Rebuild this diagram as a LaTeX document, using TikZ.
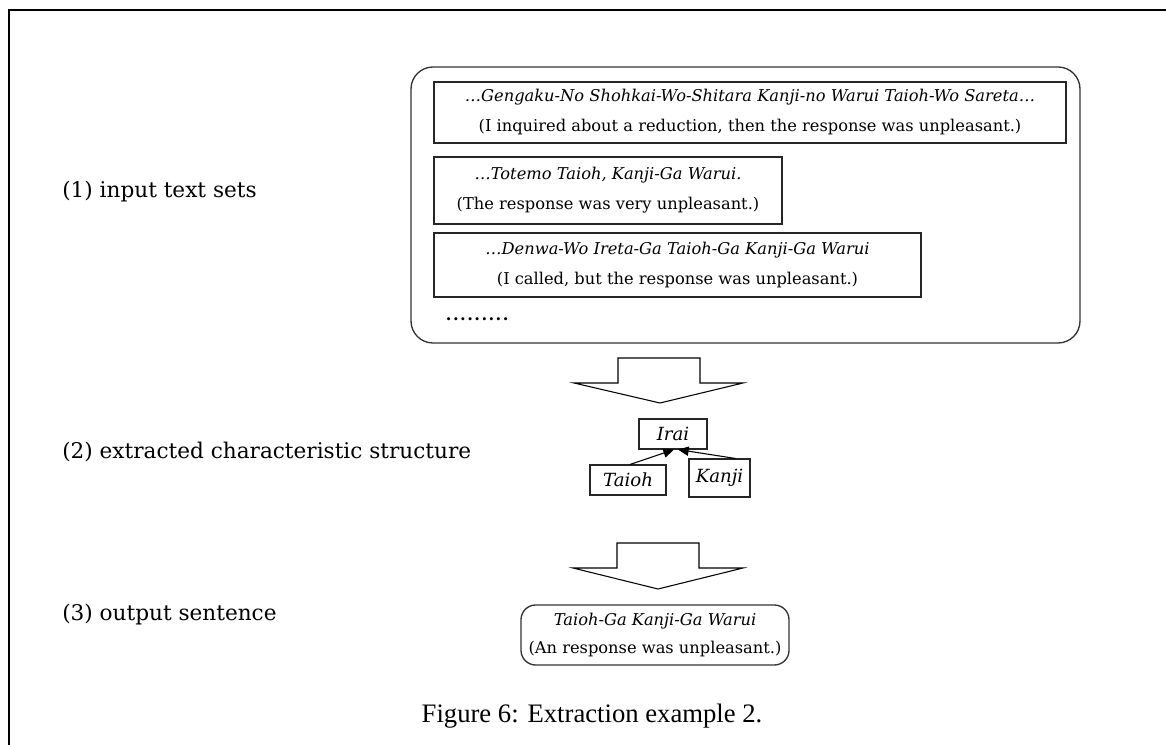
\documentclass[tikz,border=0pt]{standalone}
\usepackage{fontspec}
\setmainfont{DejaVu Serif}
\newfontfamily\captionfont{Liberation Serif}
\usetikzlibrary{arrows.meta}

% row of evenly spaced dots
\newcommand\dotrow{\foreach \k in {1,...,9}{\makebox[5.33pt]{.}}}

\begin{document}
\begin{tikzpicture}[x=0.75pt,y=-0.75pt,
  frameline/.style={line width=1.5pt,black},
  textbox/.style={draw=black!85,line width=0.8pt,align=center,inner sep=0pt,
    font=\fontsize{12.2}{22.5}\selectfont},
  wordbox/.style={draw=black!85,line width=0.8pt,inner sep=0pt,
    font=\fontsize{13.6}{16}\selectfont\itshape},
  roundbox/.style={draw=black!80,line width=1pt,rounded corners=16.5pt,inner sep=0pt},
  steplabel/.style={anchor=west,inner sep=0pt,font=\fontsize{16.2}{20}\selectfont},
  fatarrow/.style={draw=black,line width=0.8pt,fill=white},
  link/.style={line width=0.8pt,-{Triangle[length=8pt,width=7pt]}}]
\useasboundingbox (0,0) rectangle (1166,745);

% frame
\draw[frameline] (9,745) -- (9,10) -- (1166,10);

% (1) input text sets
\node[roundbox,minimum width=501.75pt,minimum height=207pt] (inputs) at (745.5,205) {};
\node[textbox,minimum width=474pt,minimum height=45.75pt] (s1) at (750,112.5)
  {\itshape\ldots Gengaku-No Shohkai-Wo-Shitara Kanji-no Warui Taioh-Wo Sareta\ldots\\
   (I inquired about a reduction, then the response was unpleasant.)};
\node[textbox,minimum width=261pt,minimum height=50.25pt] (s2) at (608,190.5)
  {\itshape\ldots Totemo Taioh, Kanji-Ga Warui.\\
   (The response was very unpleasant.)};
\node[textbox,minimum width=365.25pt,minimum height=48pt] (s3) at (677.5,265)
  {\itshape\ldots Denwa-Wo Ireta-Ga Taioh-Ga Kanji-Ga Warui\\
   (I called, but the response was unpleasant.)};
\node[anchor=west,inner sep=0pt,font=\fontsize{12.2}{16}\selectfont\bfseries] (more) at (445,319) {\dotrow};

\node[steplabel] (l1) at (62,192) {(1) input text sets};

% first fat arrow
\draw[fatarrow] (618,358) -- (700,358) -- (700,383) -- (743,383) -- (660,403)
  -- (574,383) -- (618,383) -- cycle;

% (2) extracted structure
\node[wordbox,minimum width=51pt,minimum height=22.5pt] (irai) at (673,434) {Irai};
\node[wordbox,minimum width=57pt,minimum height=22.5pt] (taioh) at (628,480) {Taioh};
\node[wordbox,minimum width=45.75pt,minimum height=28.5pt] (kanji) at (719.5,478) {Kanji};
\draw[link] ([xshift=1.5pt]taioh.north) -- ([xshift=0.75pt]irai.south);
\draw[link] ([xshift=12pt]kanji.north) -- ([xshift=3.75pt]irai.south);

\node[steplabel] (l2) at (62,452) {(2) extracted characteristic structure};

% second fat arrow
\draw[fatarrow] (617,543) -- (699,543) -- (699,568) -- (743,568) -- (658,589)
  -- (573,568) -- (617,568) -- cycle;

% (3) output sentence
\node[roundbox,rounded corners=11pt,align=center,
  font=\fontsize{12.2}{21}\selectfont,minimum width=201pt,minimum height=45pt]
  (out) at (655,635)
  {\itshape Taioh-Ga Kanji-Ga Warui\\(An response was unpleasant.)};

\node[steplabel] (l3) at (62,615) {(3) output sentence};

% caption
\node[inner sep=0pt,font=\captionfont\fontsize{20}{24}\selectfont] (cap) at (592,716)
  {Figure 6: Extraction example 2.};
\end{tikzpicture}
\end{document}
